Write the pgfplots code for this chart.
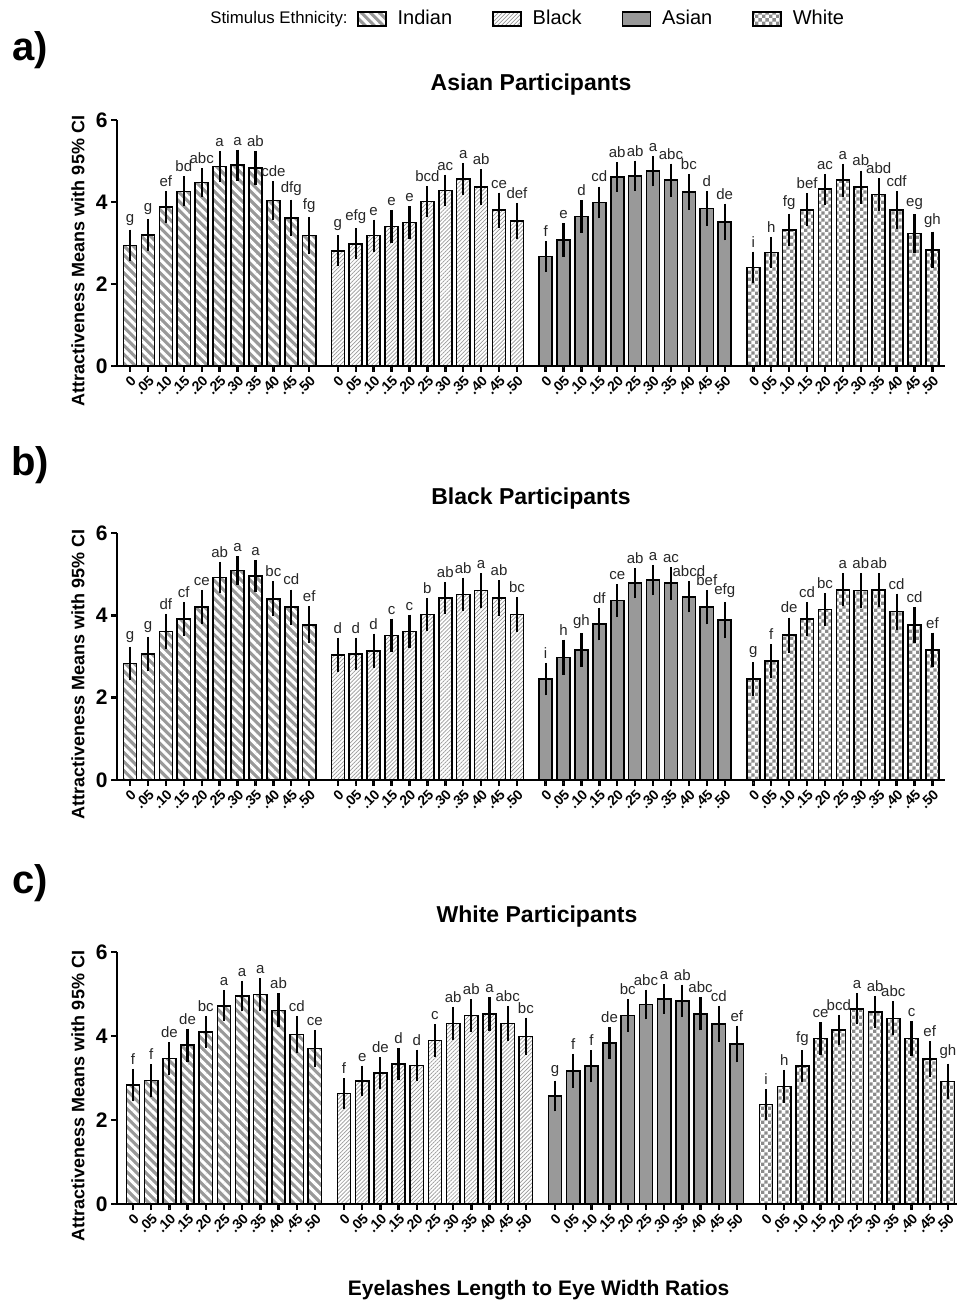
\documentclass[border=0pt]{standalone}
\usepackage{fontspec}
\setmainfont{Liberation Sans}
\usepackage{pgfplots}
\pgfplotsset{compat=1.18}
\usepackage{pgfplotstable}
\usetikzlibrary{patterns,patterns.meta}

\definecolor{bargray}{RGB}{153,153,153}
\definecolor{checkgray}{RGB}{140,140,140}

% small checkerboard for the White stimuli
\pgfdeclarepatternformonly{checker}{\pgfpointorigin}{\pgfqpoint{3.4pt}{3.4pt}}{\pgfqpoint{3.4pt}{3.4pt}}{%
  \pgfpathrectangle{\pgfpointorigin}{\pgfqpoint{1.7pt}{1.7pt}}%
  \pgfpathrectangle{\pgfqpoint{1.7pt}{1.7pt}}{\pgfqpoint{1.7pt}{1.7pt}}%
  \pgfusepath{fill}}

\tikzset{
  indian/.style={draw=black, fill=bargray, postaction={pattern={Lines[angle=-45,distance=3.2pt,line width=1.5pt]}, pattern color=white}},
  black/.style={draw=black, fill=white, postaction={pattern={Lines[angle=45,distance=1.4pt,line width=0.35pt]}, pattern color=bargray}},
  asian/.style={draw=black, fill=bargray},
  white/.style={draw=black, fill=white, postaction={pattern=checker, pattern color=checkgray}},
}

% ---- panel a: Asian participants ----
\pgfplotstableread{
i m e lab
0 2.94 0.29 g
1 3.20 0.29 g
2 3.88 0.29 ef
3 4.26 0.27 bd
4 4.48 0.25 abc
5 4.87 0.28 a
6 4.90 0.28 a
7 4.83 0.32 ab
8 4.04 0.37 cde
9 3.61 0.35 dfg
10 3.18 0.36 fg
}\aI
\pgfplotstableread{
i m e lab
0 2.81 0.28 g
1 2.98 0.28 efg
2 3.18 0.29 e
3 3.40 0.31 e
4 3.50 0.30 e
5 4.01 0.28 bcd
6 4.28 0.29 ac
7 4.56 0.29 a
8 4.36 0.34 ab
9 3.80 0.33 ce
10 3.54 0.34 def
}\aB
\pgfplotstableread{
i m e lab
0 2.67 0.28 f
1 3.07 0.31 e
2 3.65 0.30 d
3 3.99 0.29 cd
4 4.61 0.26 ab
5 4.64 0.27 ab
6 4.75 0.27 a
7 4.53 0.31 abc
8 4.25 0.34 bc
9 3.84 0.32 d
10 3.51 0.35 de
}\aA
\pgfplotstableread{
i m e lab
0 2.40 0.29 i
1 2.77 0.28 h
2 3.32 0.30 fg
3 3.81 0.30 bef
4 4.31 0.28 ac
5 4.53 0.30 a
6 4.36 0.31 ab
7 4.18 0.30 abd
8 3.81 0.36 cdf
9 3.23 0.37 eg
10 2.83 0.35 gh
}\aW

% ---- panel b: Black participants ----
\pgfplotstableread{
i m e lab
0 2.83 0.31 g
1 3.06 0.32 g
2 3.61 0.33 df
3 3.91 0.31 cf
4 4.20 0.32 ce
5 4.92 0.28 ab
6 5.09 0.25 a
7 4.96 0.29 a
8 4.40 0.33 bc
9 4.20 0.33 cd
10 3.77 0.35 ef
}\bI
\pgfplotstableread{
i m e lab
0 3.04 0.32 d
1 3.06 0.30 d
2 3.14 0.32 d
3 3.51 0.31 c
4 3.61 0.31 c
5 4.02 0.31 b
6 4.42 0.29 ab
7 4.51 0.31 ab
8 4.60 0.32 a
9 4.42 0.33 ab
10 4.02 0.32 bc
}\bB
\pgfplotstableread{
i m e lab
0 2.45 0.30 i
1 2.98 0.33 h
2 3.16 0.31 gh
3 3.79 0.30 df
4 4.36 0.30 ce
5 4.78 0.27 ab
6 4.86 0.27 a
7 4.78 0.30 ac
8 4.45 0.28 abcd
9 4.20 0.32 bef
10 3.88 0.34 efg
}\bA
\pgfplotstableread{
i m e lab
0 2.45 0.31 g
1 2.89 0.31 f
2 3.52 0.33 de
3 3.91 0.31 cd
4 4.14 0.30 bc
5 4.62 0.30 a
6 4.60 0.32 ab
7 4.61 0.32 ab
8 4.09 0.34 cd
9 3.77 0.34 cd
10 3.16 0.32 ef
}\bW

% ---- panel c: White participants ----
\pgfplotstableread{
i m e lab
0 2.83 0.29 f
1 2.94 0.29 f
2 3.46 0.30 de
3 3.78 0.30 de
4 4.10 0.28 bc
5 4.72 0.27 a
6 4.95 0.27 a
7 4.99 0.29 a
8 4.61 0.31 ab
9 4.04 0.34 cd
10 3.70 0.35 ce
}\cI
\pgfplotstableread{
i m e lab
0 2.63 0.27 f
1 2.93 0.27 e
2 3.12 0.28 de
3 3.33 0.29 d
4 3.30 0.28 d
5 3.89 0.29 c
6 4.30 0.30 ab
7 4.49 0.29 ab
8 4.52 0.31 a
9 4.30 0.32 abc
10 3.99 0.35 bc
}\cB
\pgfplotstableread{
i m e lab
0 2.57 0.27 g
1 3.17 0.31 f
2 3.28 0.29 f
3 3.83 0.28 de
4 4.49 0.29 bc
5 4.75 0.26 abc
6 4.88 0.26 a
7 4.84 0.29 ab
8 4.53 0.30 abc
9 4.29 0.33 cd
10 3.81 0.34 ef
}\cA
\pgfplotstableread{
i m e lab
0 2.37 0.27 i
1 2.80 0.30 h
2 3.29 0.28 fg
3 3.94 0.29 ce
4 4.14 0.27 bcd
5 4.65 0.27 a
6 4.57 0.29 ab
7 4.42 0.31 abc
8 3.94 0.32 c
9 3.45 0.33 ef
10 2.92 0.33 gh
}\cW

% one group of 11 bars: table, x offset, bar style
\newcommand{\group}[3]{%
  \addplot[forget plot, ybar, bar width=0.73, bar shift=0pt, line width=0.8pt, #3,
    error bars/.cd, y dir=both, y explicit,
    error bar style={line width=1.1pt, black, draw=black},
    error mark options={line width=1.1pt, mark size=2pt, black}]
    table[x expr=\thisrow{i}+#2, y=m, y error=e] {#1};
  \addplot[forget plot, draw=none, mark=none, nodes near coords, point meta=explicit symbolic]
    table[x expr=\thisrow{i}+#2, y expr=\thisrow{m}+\thisrow{e}, meta=lab] {#1};
}
\newcommand{\fourgroups}[4]{%
  \group{#1}{0}{indian}
  \group{#2}{11.6}{black}
  \group{#3}{23.2}{asian}
  \group{#4}{34.8}{white}
}

\pgfplotsset{
  panel/.style={
    scale only axis, anchor=south west, clip=false,
    width=414pt, height=123pt,
    ymin=0, ymax=6, ytick={0,2,4,6},
    axis lines*=left, axis line style={line width=1.2pt, -},
    tick align=outside, major tick length=3pt,
    tick style={line width=1.2pt, black},
    /pgf/number format/assume math mode=true,
    yticklabel style={font=\fontsize{10.5}{12}\selectfont\bfseries, inner sep=1.5pt},
    xtick={0,1,2,3,4,5,6,7,8,9,10,
           11.6,12.6,13.6,14.6,15.6,16.6,17.6,18.6,19.6,20.6,21.6,
           23.2,24.2,25.2,26.2,27.2,28.2,29.2,30.2,31.2,32.2,33.2,
           34.8,35.8,36.8,37.8,38.8,39.8,40.8,41.8,42.8,43.8,44.8},
    xticklabels={0,.05,.10,.15,.20,.25,.30,.35,.40,.45,.50,
                 0,.05,.10,.15,.20,.25,.30,.35,.40,.45,.50,
                 0,.05,.10,.15,.20,.25,.30,.35,.40,.45,.50,
                 0,.05,.10,.15,.20,.25,.30,.35,.40,.45,.50},
    xticklabel style={rotate=45, anchor=north east, inner sep=0.8pt,
                      font=\fontsize{7}{8}\selectfont\bfseries},
    ylabel={Attractiveness Means with 95\% CI},
    every axis y label/.style={at={(axis description cs:0,0.5)}, xshift=-19.5pt, yshift=-9pt,
                               rotate=90, anchor=center, font=\fontsize{9}{11}\selectfont\bfseries},
    title style={at={(axis description cs:0.5,1)}, anchor=center, yshift=11.5pt,
                 font=\fontsize{11.5}{13}\selectfont\bfseries},
    every node near coord/.style={anchor=south, inner sep=1pt, yshift=3pt, text=black!85,
                                  font=\fontsize{7.5}{8}\selectfont},
    legend image code/.code={\draw[##1] (0pt,-3.5pt) rectangle (14pt,3.5pt);},
  },
}

\begin{document}
\begin{tikzpicture}
\path[use as bounding box] (0,0) rectangle (479.5pt,651.5pt);

\node[font=\fontsize{20}{22}\selectfont\bfseries] at (15pt,626.5pt) {a)};
\node[font=\fontsize{20}{22}\selectfont\bfseries] at (15pt,419pt) {b)};
\node[font=\fontsize{20}{22}\selectfont\bfseries] at (15pt,210pt) {c)};
\node[anchor=east, inner sep=0pt, font=\fontsize{8.4}{10}\selectfont] at (174pt,642pt) {Stimulus Ethnicity:};

\begin{axis}[panel, at={(58.5pt,468.5pt)}, xmin=-0.73, xmax=45.5,
  title={Asian Participants},
  legend columns=-1,
  legend style={at={(axis description cs:0.2899,1.41)}, anchor=west, draw=none,
    inner sep=0pt, outer sep=0pt,
    font=\fontsize{10}{12}\selectfont,
    /tikz/every even column/.append style={column sep=18pt},
    /tikz/every odd column/.append style={column sep=3.5pt}}]
\fourgroups{\aI}{\aB}{\aA}{\aW}
\addlegendimage{indian, line width=0.8pt}\addlegendentry{Indian}
\addlegendimage{black, line width=0.8pt}\addlegendentry{Black}
\addlegendimage{asian, line width=0.8pt}\addlegendentry{Asian}
\addlegendimage{white, line width=0.8pt}\addlegendentry{White}
\end{axis}

\begin{axis}[panel, at={(58.5pt,261.5pt)}, height=123.5pt, xmin=-0.73, xmax=45.5,
  title={Black Participants}, title style={yshift=-0.5pt}]
\fourgroups{\bI}{\bB}{\bA}{\bW}
\end{axis}

\begin{axis}[panel, at={(58.5pt,49.5pt)}, width=420pt, height=126pt, xmin=-0.88, xmax=45.3,
  title={White Participants},
  xlabel={Eyelashes Length to Eye Width Ratios},
  xlabel style={at={(axis description cs:0.502,0)}, anchor=center, yshift=-43pt,
                font=\fontsize{10.5}{12}\selectfont\bfseries}]
\fourgroups{\cI}{\cB}{\cA}{\cW}
\end{axis}
\end{tikzpicture}
\end{document}
